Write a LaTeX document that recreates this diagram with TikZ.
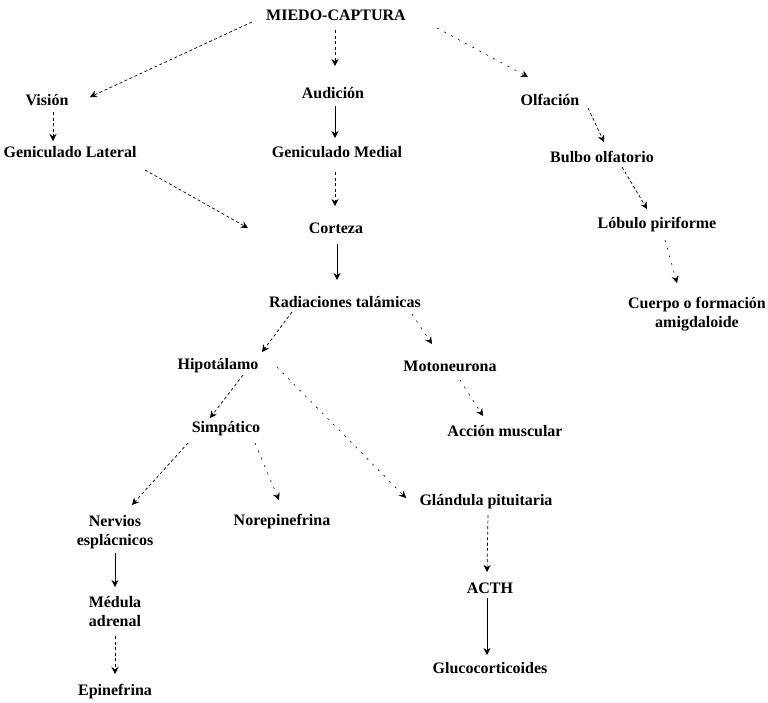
\documentclass[tikz,border=0pt]{standalone}
\usepackage{fontspec}
\setmainfont{Liberation Serif}
\usetikzlibrary{arrows.meta}
\begin{document}
\begin{tikzpicture}[x=1pt,y=-1pt,
  lbl/.style={font=\fontsize{16}{19}\selectfont\bfseries, inner sep=1pt, align=center},
  arr/.style={-{Stealth[length=7pt,width=7pt]}, line width=0.7pt, dash pattern=on 3pt off 2.5pt},
  solidarr/.style={-{Stealth[length=7pt,width=7pt]}, line width=0.8pt},
  sparse/.style={-{Stealth[length=7pt,width=7pt]}, line width=0.6pt, dash pattern=on 2pt off 6pt}]
\useasboundingbox (0,0) rectangle (768,702);
\node[lbl] (miedo) at (336,15) {MIEDO-CAPTURA};
\node[lbl] (vision) at (47,100) {Visión};
\node[lbl] (audicion) at (333,93) {Audición};
\node[lbl] (olfacion) at (550,100) {Olfación};
\node[lbl] (gl) at (70,152) {Geniculado Lateral};
\node[lbl] (gm) at (337,152) {Geniculado Medial};
\node[lbl] (bulbo) at (602,157) {Bulbo olfatorio};
\node[lbl] (corteza) at (336,228) {Corteza};
\node[lbl] (lobulo) at (657,225) {Lóbulo piriforme};
\node[lbl] (rad) at (345,302) {Radiaciones talámicas};
\node[lbl] (cuerpo) at (697,314) {Cuerpo o formación\\amigdaloide};
\node[lbl] (hipo) at (218,366) {Hipotálamo};
\node[lbl] (moto) at (450,366) {Motoneurona};
\node[lbl] (simp) at (226,429) {Simpático};
\node[lbl] (accion) at (505,431) {Acción muscular};
\node[lbl] (nervios) at (115,532) {Nervios\\esplácnicos};
\node[lbl] (norep) at (282,522) {Norepinefrina};
\node[lbl] (gland) at (486,502) {Glándula pituitaria};
\node[lbl] (acth) at (490,588) {ACTH};
\node[lbl] (medula) at (115,612) {Médula\\adrenal};
\node[lbl] (gluc) at (490,668) {Glucocorticoides};
\node[lbl] (epi) at (115,692) {Epinefrina};

\draw[arr] ([shift={(-84,7)}]miedo.center) -- ([shift={(43,-3)}]vision.center);
\draw[arr] ([shift={(-1,15)}]miedo.center) -- ([shift={(2,-27)}]audicion.center);
\draw[sparse] ([shift={(101,13)}]miedo.center) -- ([shift={(-22,-23)}]olfacion.center);
\draw[arr] ([shift={(6,12)}]vision.center) -- ([shift={(-17,-11)}]gl.center);
\draw[solidarr] ([shift={(2,13)}]audicion.center) -- ([shift={(-2,-14)}]gm.center);
\draw[arr] ([shift={(75,18)}]gl.center) -- ([shift={(-88,0)}]corteza.center);
\draw[arr] ([shift={(-2,20)}]gm.center) -- ([shift={(-1,-22)}]corteza.center);
\draw[solidarr] ([shift={(1,16)}]corteza.center) -- ([shift={(-8,-22)}]rad.center);
\draw[arr] ([shift={(38,8)}]olfacion.center) -- ([shift={(2,-15)}]bulbo.center);
\draw[arr] ([shift={(20,10)}]bulbo.center) -- ([shift={(-10,-16)}]lobulo.center);
\draw[sparse] ([shift={(8,15)}]lobulo.center) -- ([shift={(-20,-31)}]cuerpo.center);
\draw[arr] ([shift={(-53,10)}]rad.center) -- ([shift={(44,-14)}]hipo.center);
\draw[sparse] ([shift={(67,12)}]rad.center) -- ([shift={(-18,-22)}]moto.center);
\draw[arr] ([shift={(25,9)}]hipo.center) -- ([shift={(-16,-11)}]simp.center);
\draw[sparse] ([shift={(10,14)}]moto.center) -- ([shift={(-22,-15)}]accion.center);
\draw[sparse] ([shift={(59,1)}]hipo.center) -- ([shift={(-80,-4)}]gland.center);
\draw[arr] ([shift={(-38,14)}]simp.center) -- ([shift={(17,-27)}]nervios.center);
\draw[sparse] ([shift={(29,14)}]simp.center) -- ([shift={(-3,-22)}]norep.center);
\draw[arr] ([shift={(2,13)}]gland.center) -- ([shift={(-3,-16)}]acth.center);
\draw[solidarr] ([shift={(0,21)}]nervios.center) -- ([shift={(0,-25)}]medula.center);
\draw[solidarr] ([shift={(-3,10)}]acth.center) -- ([shift={(-3,-13)}]gluc.center);
\draw[arr] ([shift={(0,24)}]medula.center) -- ([shift={(0,-18)}]epi.center);
\end{tikzpicture}
\end{document}
